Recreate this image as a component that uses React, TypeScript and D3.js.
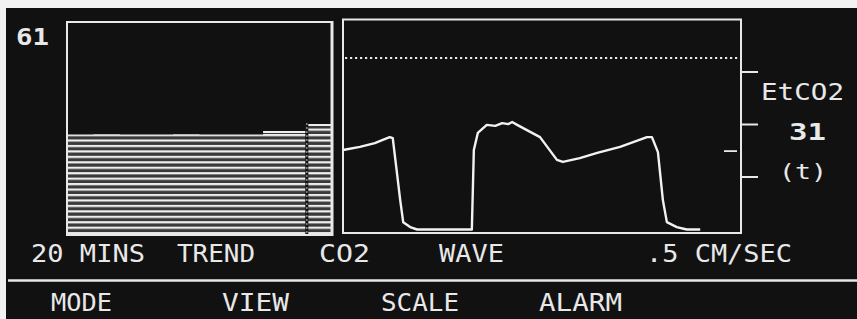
import React from 'react';
import * as d3 from 'd3';

const W = 857;
const H = 319;

// Trend (20 min) of CO2, mmHg
const trendTimes = [-20, -18, -16, -14, -12, -10, -8, -6, -5.2, -4, -3, -1.9, -1, 0];
const trendValues = [28.0, 28.1, 28.0, 28.0, 28.1, 28.0, 28.0, 28.0, 28.7, 28.7, 28.7, 30.7, 30.7, 30.7];
const trendCursor = -1.9;

// CO2 wave (seconds, mmHg)
const waveTimes = [0, 0.34, 0.64, 0.8, 0.94, 1.0, 1.07, 1.15, 1.21, 1.35, 1.49, 2.59, 2.63, 2.71, 2.89, 3.06, 3.2, 3.32, 3.4, 3.5, 3.96, 4.3, 4.42, 4.76, 5.11, 5.57, 6.11, 6.21, 6.33, 6.43, 6.51, 6.71, 6.91, 7.18];
const waveValues = [22.7, 23.6, 24.7, 25.6, 26.4, 26.1, 17.9, 8.4, 2.1, 0.7, 0, 0, 22.7, 27.6, 29.9, 29.6, 30.4, 30.1, 30.7, 29.9, 26.4, 19.9, 19.3, 20.4, 21.9, 23.6, 26.4, 26.4, 22.1, 8.4, 2.1, 0.7, 0, 0];
const waveTicks = [15, 30, 45];
const alarmHigh = 49;
const sweepMarker = 22.4;

const topLabels = ['20 MINS', 'TREND', 'CO2', 'WAVE', '.5 CM/SEC'];
const menuLabels = ['MODE', 'VIEW', 'SCALE', 'ALARM'];
const etco2Value = '31';
const scaleLabel = '61';

const FONT = "'DejaVu Sans Mono', monospace";
const FG = '#e8e8e8';

export default function App() {
  // trend panel
  const tx = d3.scaleLinear().domain([-20, 0]).range([67, 332]);
  const ty = d3.scaleLinear().domain([0, 60]).range([233, 22]);
  // wave panel
  const wx = d3.scaleLinear().domain([0, 8]).range([343, 741]);
  const wy = d3.scaleLinear().domain([0, 60]).range([229.5, 19.5]);

  const trendPts = trendTimes.map((t, i) => [t, trendValues[i]] as [number, number]);
  const trendArea = d3
    .area<[number, number]>()
    .x((d) => tx(d[0]))
    .y0(ty(0) + 1)
    .y1((d) => ty(d[1]))
    .curve(d3.curveStepAfter)(trendPts);
  const trendLine = d3
    .line<[number, number]>()
    .x((d) => tx(d[0]))
    .y((d) => ty(d[1]))
    .curve(d3.curveStepAfter)(trendPts.filter((d) => d[0] >= -5.2));

  const wavePts = waveTimes.map((t, i) => [t, waveValues[i]] as [number, number]);
  const waveLine = d3
    .line<[number, number]>()
    .x((d) => wx(d[0]))
    .y((d) => wy(d[1]))(wavePts);

  const topPos = [
    { x: 31, w: 114 },
    { x: 177, w: 78 },
    { x: 319, w: 51 },
    { x: 439, w: 65 },
    { x: 646, w: 146 },
  ];
  const menuPos = [
    { x: 51, w: 61 },
    { x: 222, w: 67 },
    { x: 381, w: 78 },
    { x: 539, w: 83 },
  ];

  return (
    <svg
      width={W}
      height={H}
      viewBox={`0 0 ${W} ${H}`}
      style={{ position: 'absolute', left: 0, top: 0, display: 'block' }}
    >
      <defs>
        <pattern id="scan" patternUnits="userSpaceOnUse" x={0} y={134} width={10} height={5.45}>
          <rect x={0} y={0} width={10} height={5.45} fill="#3a3a3a" />
          <rect x={0} y={0} width={10} height={2.2} fill="#eeeeee" />
        </pattern>
      </defs>
      <rect x={0} y={0} width={W} height={H} fill="#f2f2f2" />
      <rect x={6} y={8} width={W - 6} height={H - 8} fill="#111111" />

      {/* trend panel */}
      <path d={trendArea || ''} fill="url(#scan)" />
      <path d={trendLine || ''} fill="none" stroke="#eeeeee" strokeWidth={2} />
      <line x1={tx(trendCursor)} x2={tx(trendCursor)} y1={ty(trendValues[11]) - 2} y2={235} stroke="#111" strokeWidth={3} />
      <line x1={tx(trendCursor)} x2={tx(trendCursor)} y1={ty(trendValues[11]) - 2} y2={235} stroke="#888" strokeWidth={1.5} strokeDasharray="2,2" />
      <rect x={67} y={22} width={265} height={213} fill="none" stroke={FG} strokeWidth={2} />
      <line x1={332} x2={332} y1={21} y2={236} stroke={FG} strokeWidth={3} />

      {/* wave panel */}
      <line x1={wx(0) + 2} x2={wx(8) - 2} y1={wy(alarmHigh)} y2={wy(alarmHigh)} stroke={FG} strokeWidth={1.8} strokeDasharray="2.2,2.8" />
      <path d={waveLine || ''} fill="none" stroke="#f2f2f2" strokeWidth={2.4} strokeLinejoin="round" />
      <line x1={724} x2={737} y1={wy(sweepMarker)} y2={wy(sweepMarker)} stroke={FG} strokeWidth={1.8} />
      <rect x={343} y={19.5} width={398} height={213.5} fill="none" stroke={FG} strokeWidth={2} />
      {waveTicks.map((t) => (
        <line key={t} x1={741} x2={758} y1={wy(t)} y2={wy(t)} stroke={FG} strokeWidth={2} />
      ))}

      {/* right readout */}
      <text x={761} y={100} fill={FG} fontFamily={FONT} fontSize={23} textLength={83} lengthAdjust="spacingAndGlyphs">EtCO2</text>
      <text x={789} y={140} fill={FG} fontFamily={FONT} fontSize={23} fontWeight="bold" textLength={37} lengthAdjust="spacingAndGlyphs">{etco2Value}</text>
      <text x={779} y={179} fill={FG} fontFamily={FONT} fontSize={21} textLength={48} lengthAdjust="spacingAndGlyphs">(t)</text>
      <text x={16} y={45} fill={FG} fontFamily={FONT} fontSize={23} fontWeight="bold" textLength={33} lengthAdjust="spacingAndGlyphs">{scaleLabel}</text>

      {/* status row */}
      {topLabels.map((s, i) => (
        <text key={s} x={topPos[i].x} y={262} fill={FG} fontFamily={FONT} fontSize={24.5} textLength={topPos[i].w} lengthAdjust="spacingAndGlyphs">{s}</text>
      ))}
      <line x1={8} x2={W} y1={280.5} y2={280.5} stroke={FG} strokeWidth={2.5} />
      {menuLabels.map((s, i) => (
        <text key={s} x={menuPos[i].x} y={311} fill={FG} fontFamily={FONT} fontSize={25} textLength={menuPos[i].w} lengthAdjust="spacingAndGlyphs">{s}</text>
      ))}
    </svg>
  );
}
